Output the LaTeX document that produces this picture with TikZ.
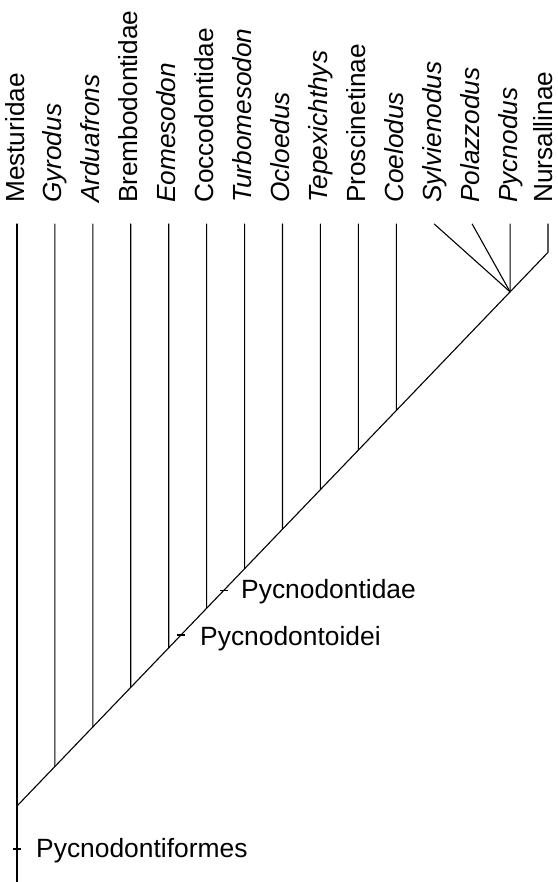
\documentclass[tikz,border=0pt]{standalone}
\usepackage{fontspec}
\setmainfont{Liberation Sans}
\usetikzlibrary{calc}
\begin{document}
\begin{tikzpicture}[x=1pt,y=-1pt,
  branch/.style={line width=1.1pt, line cap=round, line join=round},
  tickmark/.style={line width=1.1pt},
  taxon/.style={rotate=90, anchor=base west, inner sep=0pt, font=\fontsize{26.2}{30}\selectfont},
  cladename/.style={anchor=base west, inner sep=0pt, font=\fontsize{26.4}{30}\selectfont}]
\useasboundingbox (0,0) rectangle (557,882);
% root and end of the comb
\coordinate (R) at (17,806);
\coordinate (K) at (548.02,252.3);
\coordinate (bot) at (17,882);
% tops and branch points
\foreach \i in {0,...,14}{
  \coordinate (top\i) at ({17+37.93*\i},224);
  \coordinate (b\i) at ($(R)!{\i/14}!(K)$);
}
\coordinate (P) at (b13);
% labels
\foreach \i/\t in {0/Mesturidae, 1/\textit{Gyrodus}, 2/\textit{Arduafrons}, 3/Brembodontidae,
  4/\textit{Eomesodon}, 5/Coccodontidae, 6/\textit{Turbomesodon}, 7/\textit{Ocloedus},
  8/\textit{Tepexichthys}, 9/Proscinetinae, 10/\textit{Coelodus}, 11/\textit{Sylvienodus},
  12/\textit{Polazzodus}, 13/\textit{Pycnodus}}{
  \node[taxon] (t\i) at ({17+37.93*\i+7},203) {\t};
}
\node[taxon] (t14) at (552,203) {Nursallinae};
% tree
\draw[branch] (top0) -- (bot);
\draw[branch] (R) -- (P) -- (K) -- (top14);
\foreach \i in {1,...,10}{
  \draw[branch] (top\i) -- (b\i);
}
\draw[branch] (top11) -- (P);
\draw[branch] (top12) -- (P);
\draw[branch] (top13) -- (P);
% clade ticks
\coordinate (T1) at (17,849);
\coordinate (T2) at ($(R)!{207/531.02}!(K)$);
\coordinate (T3) at ($(R)!{164/531.02}!(K)$);
\foreach \k in {1,2,3}{
  \draw[tickmark] ($(T\k)+(-4,0)$) -- ($(T\k)+(4,0)$);
}
\node[cladename] (c1) at ($(T1)+(19,8)$) {Pycnodontiformes};
\node[cladename] (c2) at ($(T2)+(17,8)$) {Pycnodontidae};
\node[cladename] (c3) at ($(T3)+(19,10)$) {Pycnodontoidei};
\end{tikzpicture}
\end{document}
